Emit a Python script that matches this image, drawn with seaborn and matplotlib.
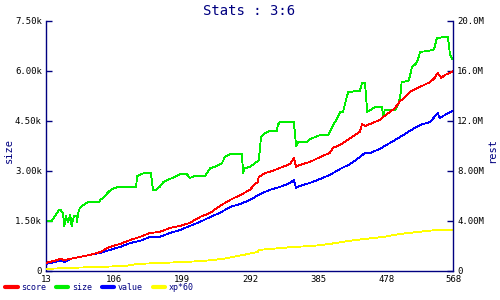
import matplotlib
matplotlib.use("Agg")
import matplotlib.pyplot as plt
import seaborn as sns

# ---- data ----
size_x = [14, 21, 25, 31, 33, 36, 38, 40, 43, 46, 48, 51, 55, 55, 57, 59, 62, 70, 85, 87, 92, 98, 103, 111,
          136, 137, 147, 156, 159, 162, 168, 173, 185, 196, 205, 209, 216, 230, 237, 243, 253, 257, 264, 280,
          282, 284, 291, 302, 303, 305, 306, 312, 318, 328, 329, 332, 351, 354, 357, 369, 373, 380, 387, 398,
          400, 406, 408, 414, 418, 422, 425, 437, 441, 444, 448, 451, 455, 462, 471, 473, 475, 489, 493, 496,
          498, 507, 509, 512, 517, 520, 523, 541, 543, 546, 557, 561, 564, 567, 568]
size_y = [1490, 1490, 1640, 1820, 1820, 1730, 1340, 1640, 1460, 1670, 1340, 1640, 1640, 1460, 1730, 1880, 1940,
          2060, 2060, 2120, 2210, 2360, 2450, 2510, 2510, 2840, 2930, 2930, 2420, 2420, 2510, 2660, 2780, 2900,
          2900, 2780, 2840, 2840, 3080, 3110, 3230, 3410, 3500, 3500, 2930, 3080, 3110, 3290, 3320, 3680, 4010,
          4130, 4190, 4190, 4370, 4460, 4460, 3740, 3860, 3860, 3950, 4010, 4070, 4070, 4160, 4430, 4490, 4760,
          4760, 5120, 5360, 5390, 5390, 5630, 5630, 4760, 4820, 4910, 4910, 4640, 4820, 4820, 4970, 5210, 5660,
          5690, 5810, 6110, 6200, 6320, 6560, 6620, 6710, 6980, 7010, 7010, 6470, 6350, 6350]

score_x = [13, 25, 32, 38, 46, 59, 73, 87, 100, 114, 128, 141, 155, 168, 182, 196, 209, 223, 237, 250, 264,
           278, 291, 298, 302, 303, 312, 318, 332, 346, 351, 354, 359, 373, 387, 400, 404, 414, 428, 441, 444,
           448, 455, 468, 473, 482, 489, 496, 503, 509, 523, 537, 543, 547, 552, 557, 564, 568]
score_y = [0.62, 0.80, 0.94, 0.86, 0.94, 1.10, 1.26, 1.50, 1.90, 2.14, 2.46, 2.70, 3.02, 3.10, 3.42, 3.58, 3.82,
           4.30, 4.62, 5.18, 5.66, 6.06, 6.46, 6.94, 7.10, 7.50, 7.82, 7.90, 8.22, 8.54, 9.02, 8.30, 8.46, 8.70,
           9.10, 9.42, 9.82, 10.06, 10.62, 11.10, 11.74, 11.58, 11.74, 12.06, 12.30, 12.70, 13.02, 13.58, 13.90,
           14.30, 14.70, 15.10, 15.42, 15.82, 15.42, 15.66, 15.82, 15.98]

value_x = [13, 32, 39, 46, 59, 73, 87, 100, 114, 128, 141, 155, 168, 182, 196, 209, 223, 237, 250, 264, 278,
           291, 305, 318, 332, 346, 351, 354, 359, 373, 387, 400, 414, 428, 441, 448, 455, 468, 482, 496, 509,
           523, 537, 547, 550, 557, 564, 568]
value_y = [0.54, 0.78, 0.70, 0.94, 1.10, 1.26, 1.42, 1.66, 1.90, 2.22, 2.38, 2.70, 2.70, 3.02, 3.26, 3.58, 3.90,
           4.30, 4.62, 5.10, 5.34, 5.66, 6.14, 6.46, 6.70, 7.02, 7.26, 6.62, 6.78, 7.02, 7.34, 7.66, 8.14, 8.54,
           9.10, 9.42, 9.42, 9.74, 10.22, 10.70, 11.18, 11.66, 11.90, 12.62, 12.22, 12.46, 12.70, 12.78]

xp_x = [13, 42, 85, 122, 137, 202, 227, 254, 282, 302, 303, 335, 350, 377, 400, 425, 448, 473, 496, 520, 546, 568]
xp_y = [0.14, 0.22, 0.30, 0.38, 0.54, 0.70, 0.78, 0.94, 1.26, 1.50, 1.66, 1.82, 1.90, 1.98, 2.14, 2.38, 2.54,
        2.70, 2.94, 3.10, 3.26, 3.26]

x_ticks = [13, 106, 199, 292, 385, 478, 568]
left_ticks = [0, 1500, 3000, 4500, 6000, 7500]
left_labels = ["0", "1.50k", "3.00k", "4.50k", "6.00k", "7.50k"]
right_ticks = [0, 4, 8, 12, 16, 20]
right_labels = ["0", "4.00M", "8.00M", "12.0M", "16.0M", "20.0M"]
series_names = ["score", "size", "value", "xp*60"]
title_text = "Stats : 3:6"

# ---- style ----
sns.set_style("white")
plt.rcParams["font.family"] = ["DejaVu Sans Mono", "DejaVu Sans"]

NAVY = "#000080"
C_SCORE, C_SIZE, C_VALUE, C_XP = "#ff0000", "#00ee00", "#0000ff", "#ffff00"

fig = plt.figure(figsize=(5, 3), dpi=100)
ax = fig.add_axes([0.092, 0.0977, 0.814, 0.8333])
ax2 = ax.twinx()

lw = 0.6
sns.lineplot(x=size_x, y=size_y, ax=ax, color=C_SIZE, linewidth=lw, sort=False, estimator=None)
sns.lineplot(x=xp_x, y=xp_y, ax=ax2, color=C_XP, linewidth=lw, sort=False, estimator=None)
sns.lineplot(x=value_x, y=value_y, ax=ax2, color=C_VALUE, linewidth=lw, sort=False, estimator=None)
sns.lineplot(x=score_x, y=score_y, ax=ax2, color=C_SCORE, linewidth=lw, sort=False, estimator=None)

ax.set_xlim(x_ticks[0], x_ticks[-1])
ax.set_ylim(0, 7500)
ax2.set_ylim(0, 20)

ax.set_xticks(x_ticks)
ax.set_xticklabels([str(t) for t in x_ticks])
ax.set_yticks(left_ticks)
ax.set_yticklabels(left_labels)
ax2.set_yticks(right_ticks)
ax2.set_yticklabels(right_labels)

for a in (ax, ax2):
    for side in ("left", "right", "bottom"):
        a.spines[side].set_color(NAVY)
        a.spines[side].set_linewidth(1.0)
    a.spines["top"].set_visible(False)
    a.tick_params(direction="in", length=4, width=1, color=NAVY, labelsize=6.5, labelcolor="black", pad=3)
ax.tick_params(axis="x", pad=3)
ax.spines["right"].set_visible(False)
ax2.spines["left"].set_visible(False)
ax2.spines["bottom"].set_visible(False)

ax.set_ylabel("size", color=NAVY, fontsize=7.5)
ax2.set_ylabel("rest", color=NAVY, fontsize=7.5, rotation=90)
ax.yaxis.set_label_coords(-0.08, 0.48)
ax2.yaxis.set_label_coords(1.085, 0.48)
ax.set_xlabel("")
ax.set_title(title_text, color=NAVY, fontsize=10, pad=4)

for ln in ax.lines + ax2.lines:
    ln.set_antialiased(False)

handles = [ax2.lines[2], ax.lines[0], ax2.lines[1], ax2.lines[0]]
leg = fig.legend(handles, series_names, loc="center left", bbox_to_anchor=(0.01, 0.043), ncol=4,
                 frameon=False, fontsize=6, handlelength=1.5, handletextpad=0.4, columnspacing=1.2,
                 borderpad=0.0, borderaxespad=0.0)
for h in leg.legend_handles:
    h.set_linewidth(3)
for t in leg.get_texts():
    t.set_color(NAVY)

fig.savefig("out.png", dpi=100)
